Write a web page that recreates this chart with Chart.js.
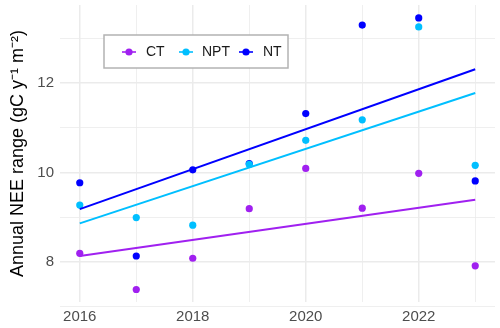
<!DOCTYPE html>
<html>
<head>
<meta charset="utf-8">
<script src="https://cdn.jsdelivr.net/npm/chart.js@4"></script>
<style>
  html, body { margin: 0; padding: 0; background: #fff; }
  #wrap { width: 500px; height: 328px; }
</style>
</head>
<body>
<div id="wrap"><canvas id="myChart" width="500" height="328"></canvas></div>
<script>
// data
const years = [2016, 2017, 2018, 2019, 2020, 2021, 2022, 2023];
const ct  = [8.19, 7.38, 8.08, 9.19, 10.09, 9.20, 9.98, 7.91];
const npt = [9.27, 8.99, 8.82, 10.18, 10.72, 11.18, 13.26, 10.16];
const nt  = [9.77, 8.13, 10.06, 10.20, 11.32, 13.30, 13.46, 9.81];

// fitted trend lines, endpoints at first and last year
const trendYears = [2016, 2023];
const ctTrend  = [8.13, 9.39];
const nptTrend = [8.86, 11.78];
const ntTrend  = [9.18, 12.31];

const xTicks = [2016, 2017, 2018, 2019, 2020, 2021, 2022, 2023];
const xLabels = [2016, 2018, 2020, 2022];
const yTicks = [7, 8, 9, 10, 11, 12, 13];
const yLabels = [8, 10, 12];

const colors = { CT: "#A020F0", NPT: "#00BFFF", NT: "#0000FF" };
const font = "'Liberation Sans', Arial, sans-serif";

const pts = (xs, ys) => xs.map((x, i) => ({ x: x, y: ys[i] }));

function scatterSet(label, ys) {
  return {
    type: "scatter", label: label, data: pts(years, ys),
    backgroundColor: colors[label], borderColor: colors[label],
    pointRadius: 3.6, pointHoverRadius: 3.6, borderWidth: 0, order: 2,
  };
}
function trendSet(label, ys) {
  return {
    type: "line", label: label + " trend", data: pts(trendYears, ys),
    borderColor: colors[label], borderWidth: 2, pointRadius: 0,
    fill: false, order: 1,
  };
}

// legend box inside the plot, like the ggplot one
const boxLegend = {
  id: "boxLegend",
  afterDraw(chart) {
    const c = chart.ctx;
    c.save();
    c.fillStyle = "#fff";
    c.strokeStyle = "#b3b3b3";
    c.lineWidth = 1.5;
    c.fillRect(104, 35, 184, 33);
    c.strokeRect(104, 35, 184, 33);
    const items = [["CT", 129, 146], ["NPT", 186, 202], ["NT", 246, 263]];
    c.font = "14px " + font;
    c.textBaseline = "middle";
    items.forEach(([name, mx, tx]) => {
      c.strokeStyle = colors[name];
      c.lineWidth = 1.6;
      c.beginPath();
      c.moveTo(mx - 7, 52);
      c.lineTo(mx + 7, 52);
      c.stroke();
      c.fillStyle = colors[name];
      c.beginPath();
      c.arc(mx, 52, 3.6, 0, Math.PI * 2);
      c.fill();
      c.fillStyle = "#1a1a1a";
      c.fillText(name, tx, 52.5);
    });
    c.restore();
  },
};

const ctx = document.getElementById("myChart").getContext("2d");
const myChart = new Chart(ctx, {
  data: {
    datasets: [
      trendSet("CT", ctTrend), trendSet("NPT", nptTrend), trendSet("NT", ntTrend),
      scatterSet("CT", ct), scatterSet("NPT", npt), scatterSet("NT", nt),
    ],
  },
  options: {
    responsive: false,
    animation: false,
    layout: { padding: { top: 5, right: 5, left: 0, bottom: 0 } },
    plugins: { legend: { display: false }, tooltip: { enabled: false } },
    scales: {
      x: {
        type: "linear", min: 2015.65, max: 2023.35,
        afterBuildTicks: (s) => { s.ticks = xTicks.map((v) => ({ value: v })); },
        afterFit: (s) => { s.height = 26; s.paddingLeft = 0; s.paddingRight = 0; },
        border: { display: false },
        grid: {
          drawTicks: false,
          color: "#ebebeb",
          lineWidth: (c) => (xLabels.includes(c.tick.value) ? 1.5 : 0.8),
        },
        ticks: {
          padding: 6, color: "#4d4d4d", font: { family: font, size: 15 },
          maxRotation: 0,
          callback: (v) => (xLabels.includes(v) ? String(v) : ""),
        },
      },
      y: {
        type: "linear", min: 7.1, max: 13.75,
        afterBuildTicks: (s) => { s.ticks = yTicks.map((v) => ({ value: v })); },
        afterFit: (s) => { s.width = 60; s.paddingTop = 0; s.paddingBottom = 0; },
        border: { display: false },
        grid: {
          drawTicks: false,
          color: "#ebebeb",
          lineWidth: (c) => (yLabels.includes(c.tick.value) ? 1.5 : 0.8),
        },
        ticks: {
          padding: 6, color: "#4d4d4d", font: { family: font, size: 15 },
          callback: (v) => (yLabels.includes(v) ? String(v) : ""),
        },
        title: {
          display: true, text: "Annual NEE range (gC y\u207B\u00B9 m\u207B\u00B2)",
          color: "#000", font: { family: font, size: 18 }, padding: { top: 7, bottom: 0 },
        },
      },
    },
  },
  plugins: [boxLegend],
});
</script>
</body>
</html>
